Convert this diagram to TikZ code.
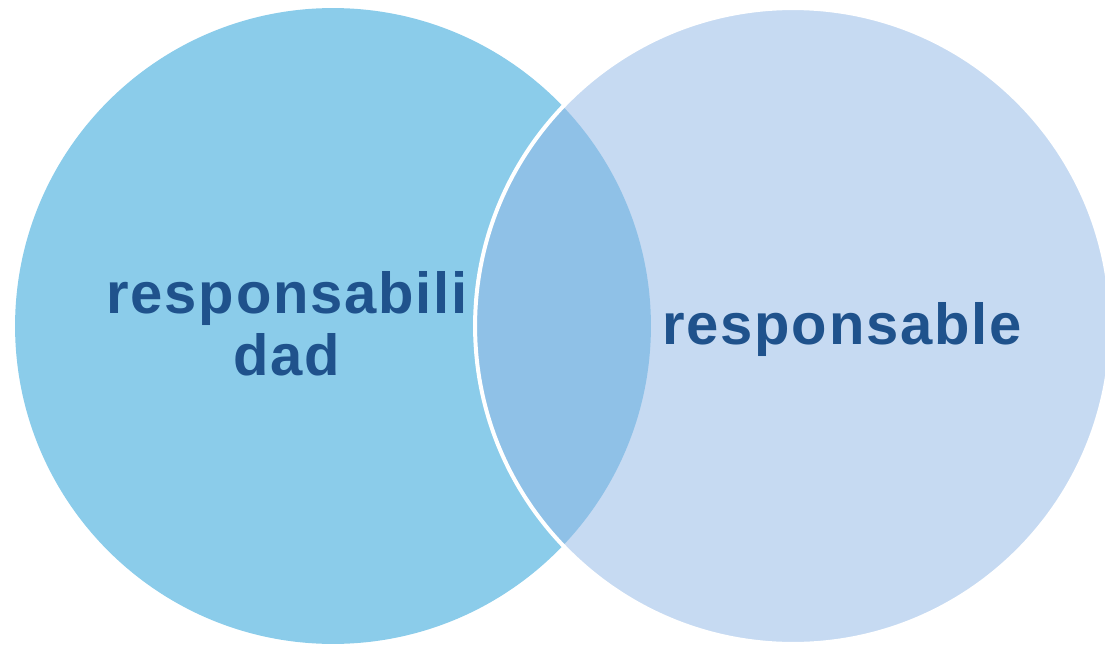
\documentclass[tikz,border=0pt]{standalone}
\usepackage{fontspec}
\setmainfont{Liberation Sans}
\newfontfamily\wordfont[LetterSpace=3]{Liberation Sans}
\usepackage{xcolor}
\usetikzlibrary{positioning}

\definecolor{leftblue}{RGB}{139,204,234}
\definecolor{rightblue}{RGB}{147,185,230}
\definecolor{wordblue}{RGB}{31,82,140}

\begin{document}
\begin{tikzpicture}[x=0.02cm,y=0.02cm,
set/.style={circle,minimum size=12.72cm,inner sep=0pt},
word/.style={font=\wordfont\fontsize{33}{35.2}\selectfont\bfseries,text=wordblue,align=center}]

\useasboundingbox (0,0) rectangle (1105,647);
\node[set,fill=leftblue] (A) at (333,321) {};
\node[set,fill=rightblue,fill opacity=0.53,draw=white,line width=0.8mm] (B) at (793,321) {};
\node[word,anchor=base] (wa) at (287,272) {responsabili\\dad};
\node[word,anchor=base] (wb) at (842,303) {responsable};
\end{tikzpicture}
\end{document}
